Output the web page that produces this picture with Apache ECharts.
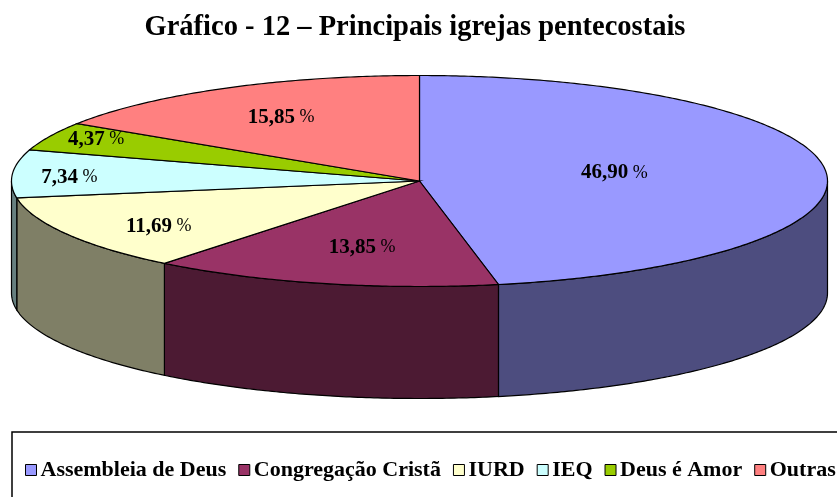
<!DOCTYPE html>
<html>
<head>
<meta charset="utf-8">
<style>
html, body { margin: 0; padding: 0; background: #fff; }
#chart { width: 837px; height: 497px; }
</style>
<script src="https://cdn.jsdelivr.net/npm/echarts@6/dist/echarts.min.js"></script>
</head>
<body>
<div id="chart"></div>
<script>
var categories = ['Assembleia de Deus', 'Congregação Cristã', 'IURD', 'IEQ', 'Deus é Amor', 'Outras'];
var shares = [46.90, 13.85, 11.69, 7.34, 4.37, 15.85];
var topColors = ['#9999ff', '#993366', '#ffffcc', '#ccffff', '#99cc00', '#ff8080'];
var sideColors = ['#4d4d7f', '#4c1a33', '#7f7f66', '#667f7f', '#4c6600', '#7f4040'];

// where each label sits along its slice's middle radius
var labelFx = [0.48, 0.59, 0.74, 0.86, 0.875, 0.71];
var labelFy = [0.87, 0.64, 0.83, 0.6, 0.95, 0.70];

var cx = 419.5, cy = 181, rx = 408, ry = 105.5, depth = 112;
var font = '"Liberation Serif", serif';

var total = 0;
for (var i = 0; i < shares.length; i++) {
    total += shares[i];
}

function startAngle(idx) {
    var sum = 0;
    for (var i = 0; i < idx; i++) {
        sum += shares[i];
    }
    return sum / total * Math.PI * 2;
}

function rimPoint(a, dy) {
    return [cx + rx * Math.sin(a), cy - ry * Math.cos(a) + dy];
}

function arc(a0, a1, dy) {
    var pts = [];
    var n = Math.max(2, Math.ceil((a1 - a0) / 0.01));
    for (var i = 0; i <= n; i++) {
        pts.push(rimPoint(a0 + (a1 - a0) * i / n, dy));
    }
    return pts;
}

function renderSlice(params, api) {
    var idx = params.seriesIndex;
    var a0 = startAngle(idx);
    var a1 = a0 + api.value(0) / total * Math.PI * 2;
    var children = [];

    // front wall only, between 3 and 9 o'clock
    var s0 = Math.max(a0, Math.PI / 2);
    var s1 = Math.min(a1, Math.PI * 3 / 2);
    if (s1 > s0) {
        children.push({
            type: 'polygon',
            shape: { points: arc(s0, s1, 0).concat(arc(s0, s1, depth).reverse()) },
            style: { fill: sideColors[idx], stroke: '#000', lineWidth: 1.2 }
        });
    }

    children.push({
        type: 'polygon',
        shape: { points: [[cx, cy]].concat(arc(a0, a1, 0)) },
        style: { fill: topColors[idx], stroke: '#000', lineWidth: 1.2 }
    });

    var mid = (a0 + a1) / 2;
    children.push({
        type: 'text',
        z2: 10,
        style: {
            x: cx + rx * Math.sin(mid) * labelFx[idx],
            y: cy - ry * Math.cos(mid) * labelFy[idx] + 1,
            text: '{b|' + api.value(0).toFixed(2).replace('.', ',') + '}{r| %}',
            align: 'center',
            verticalAlign: 'middle',
            rich: {
                b: { fontFamily: font, fontSize: 21, fontWeight: 'bold', fill: '#000' },
                r: { fontFamily: font, fontSize: 18, fill: '#000' }
            }
        }
    });

    return { type: 'group', children: children };
}

var seriesList = [];
for (var k = 0; k < categories.length; k++) {
    seriesList.push({
        type: 'custom',
        name: categories[k],
        coordinateSystem: 'none',
        renderItem: renderSlice,
        itemStyle: { color: topColors[k] },
        silent: true,
        data: [[shares[k]]]
    });
}

var myChart = echarts.init(document.getElementById('chart'));
myChart.setOption({
    animation: false,
    title: {
        text: 'Gráfico - 12 – Principais igrejas pentecostais',
        left: 410,
        top: 8,
        textAlign: 'center',
        textStyle: { fontFamily: font, fontSize: 28.5, fontWeight: 'bold', color: '#000' }
    },
    legend: {
        data: categories,
        left: 25,
        top: 459,
        padding: 0,
        itemWidth: 11,
        itemHeight: 11,
        itemGap: 12,
        icon: 'rect',
        itemStyle: { borderColor: '#000', borderWidth: 1 },
        textStyle: { fontFamily: font, fontSize: 22, fontWeight: 'bold', color: '#000', padding: [0, 0, 0, -1] }
    },
    graphic: [{
        type: 'rect',
        silent: true,
        z: -1,
        shape: { x: 12, y: 432, width: 840, height: 80 },
        style: { fill: '#fff', stroke: '#000', lineWidth: 1.5 }
    }],
    series: seriesList
});
</script>
</body>
</html>
